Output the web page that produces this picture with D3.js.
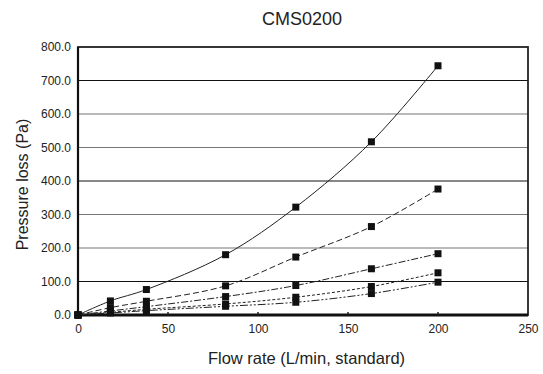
<!DOCTYPE html>
<html><head><meta charset="utf-8">
<script src="https://cdn.jsdelivr.net/npm/d3@7/dist/d3.min.js"></script>
<style>body{margin:0;background:#fff;}svg{display:block;font-family:"Liberation Sans",Arial,sans-serif;}</style>
</head><body>
<svg id="c" width="543" height="374"></svg>
<script>
const title = "CMS0200";
const flow = [0, 18, 38, 82, 121, 163, 200];
const s1 = [0, 42, 76, 180, 322, 517, 744];
const s2 = [0, 22, 41, 87, 173, 264, 376];
const s3 = [0, 12, 25, 55, 88, 138, 183];
const s4 = [0, 8, 17, 33, 53, 85, 126];
const s5 = [0, 6, 13, 26, 38, 64, 98];
const xTicks = [0, 50, 100, 150, 200, 250];
const yTicks = [0, 100, 200, 300, 400, 500, 600, 700, 800];
const series = [s1, s2, s3, s4, s5];
const dashes = ["none", "6,3", "7,2,2,2", "3,2", "8,2,2,2,2,2"];

const svg = d3.select("#c");
const L = 78, R = 528, T = 47, B = 315;
const x = d3.scaleLinear().domain([0, 250]).range([L, R]);
const y = d3.scaleLinear().domain([0, 800]).range([B, T]);

// gridlines
svg.append("g").selectAll("line").data(yTicks.filter(d => d > 0 && d < 800)).join("line")
  .attr("x1", L).attr("x2", R).attr("y1", d => y(d)).attr("y2", d => y(d))
  .attr("stroke", d => (d % 300 === 100) ? "#111" : "#777").attr("stroke-width", 1.2);

// frame
svg.append("rect").attr("x", L).attr("y", T).attr("width", R - L).attr("height", B - T)
  .attr("fill", "none").attr("stroke", "#222").attr("stroke-width", 1.8);
svg.append("line").attr("x1", L).attr("x2", R).attr("y1", B).attr("y2", B).attr("stroke", "#111").attr("stroke-width", 3);
svg.append("line").attr("x1", L).attr("x2", L).attr("y1", T).attr("y2", B).attr("stroke", "#111").attr("stroke-width", 2.2);

// x axis
const xa = svg.append("g").attr("transform", `translate(0,${B})`)
  .call(d3.axisBottom(x).tickValues(xTicks).tickFormat(d3.format("d")).tickSize(0).tickPadding(9));
xa.select(".domain").remove();
xa.selectAll("text").attr("font-size", 12).attr("fill", "#222").attr("font-family", "Liberation Sans, Arial, sans-serif");
svg.append("g").selectAll("line").data(xTicks.slice(1, -1)).join("line")
  .attr("x1", d => x(d)).attr("x2", d => x(d)).attr("y1", B - 3).attr("y2", B)
  .attr("stroke", "#222").attr("stroke-width", 1.5);

// y axis
const ya = svg.append("g").attr("transform", `translate(${L},0)`)
  .call(d3.axisLeft(y).tickValues(yTicks).tickFormat(d3.format(".1f")).tickSize(0).tickPadding(7));
ya.select(".domain").remove();
ya.selectAll("text").attr("font-size", 12).attr("fill", "#222").attr("font-family", "Liberation Sans, Arial, sans-serif");

// lines
const line = d3.line().x((d, i) => x(flow[i])).y(d => y(d)).curve(d3.curveCatmullRom.alpha(0.5));
series.forEach((s, k) => {
  svg.append("path").datum(s).attr("d", line).attr("fill", "none")
    .attr("stroke", "#222").attr("stroke-width", 1).attr("stroke-dasharray", dashes[k]);
});
series.forEach(s => {
  svg.append("g").selectAll("rect").data(s).join("rect")
    .attr("x", (d, i) => x(flow[i]) - 3.5).attr("y", d => y(d) - 3.5)
    .attr("width", 7).attr("height", 7).attr("fill", "#111");
});

// titles
svg.append("text").attr("x", 302).attr("y", 25).attr("text-anchor", "middle")
  .attr("font-size", 18).attr("fill", "#222").text(title);
svg.append("text").attr("x", 306.5).attr("y", 364).attr("text-anchor", "middle")
  .attr("font-size", 16.5).attr("fill", "#222").text("Flow rate (L/min, standard)");
svg.append("text").attr("transform", `translate(27.5,184.5) rotate(-90)`).attr("text-anchor", "middle")
  .attr("font-size", 16).attr("fill", "#222").text("Pressure loss (Pa)");
</script>
</body></html>
